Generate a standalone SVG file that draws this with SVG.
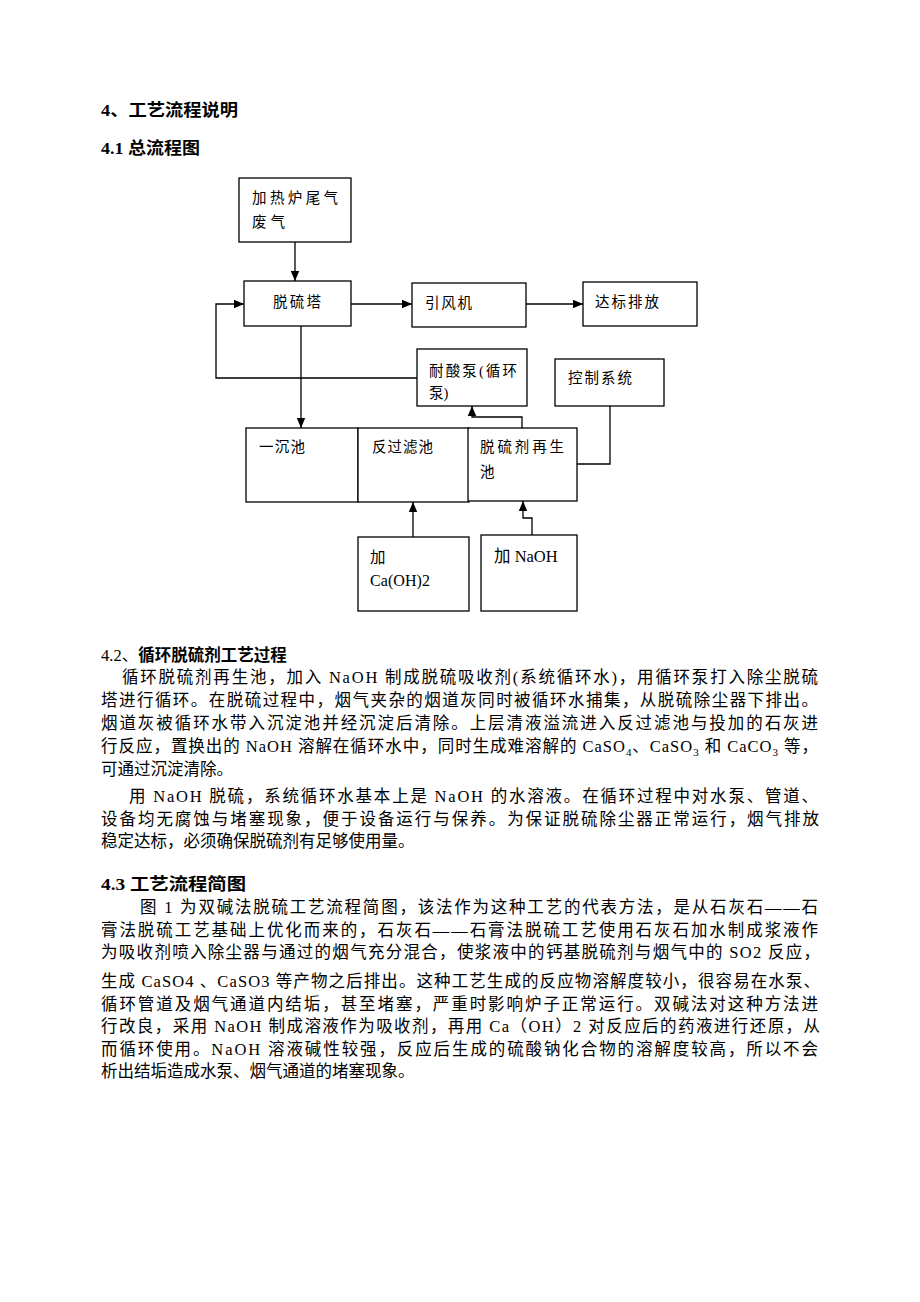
<svg xmlns="http://www.w3.org/2000/svg" width="920" height="1302" viewBox="0 0 920 1302">
<style>
.bx{fill:#fff;stroke:#000;stroke-width:1.3}
.ln{fill:none;stroke:#000;stroke-width:1.3}
.bt{font-family:"Liberation Serif","Noto Sans CJK SC",serif;font-size:14.5px;fill:#000}
.tx{font-family:"Liberation Serif","Noto Sans CJK SC",serif;font-size:16.5px;fill:#000}
.hd{font-family:"Liberation Serif","Noto Sans CJK SC",serif;font-size:16.5px;font-weight:bold;fill:#000}
</style>
<defs>
<marker id="ar" markerUnits="userSpaceOnUse" markerWidth="10" markerHeight="10" refX="10" refY="5" orient="auto">
<path d="M0,0.8 L10,5 L0,9.2 z" fill="#000"/>
</marker>
</defs>
<rect width="920" height="1302" fill="#fff"/>

<text class="hd" x="101" y="116" textLength="137" lengthAdjust="spacingAndGlyphs">4、工艺流程说明</text>
<text class="hd" x="101" y="154" textLength="99" lengthAdjust="spacingAndGlyphs">4.1 总流程图</text>

<g id="connectors">
<line class="ln" x1="295" y1="242" x2="295" y2="281" marker-end="url(#ar)"/>
<line class="ln" x1="351" y1="304" x2="412" y2="304" marker-end="url(#ar)"/>
<line class="ln" x1="526" y1="304" x2="583" y2="304" marker-end="url(#ar)"/>
<polyline class="ln" points="417,378 216,378 216,304 244,304" marker-end="url(#ar)"/>
<line class="ln" x1="301" y1="326" x2="301" y2="428" marker-end="url(#ar)"/>
<polyline class="ln" points="522,428 522,417 472,417 472,406" marker-end="url(#ar)"/>
<polyline class="ln" points="610,406 610,464 577,464"/>
<line class="ln" x1="413" y1="537" x2="413" y2="502" marker-end="url(#ar)"/>
<polyline class="ln" points="532,535 532,518 523,518 523,501" marker-end="url(#ar)"/>
</g>

<g id="n_feiqi"><rect class="bx" x="239" y="178" width="112" height="64"/>
<text class="bt" x="252" y="203" textLength="86">加热炉尾气</text>
<text class="bt" x="252" y="227" textLength="33">废气</text></g>

<g id="n_tuoliuta"><rect class="bx" x="244" y="281" width="107" height="45"/>
<text class="bt" x="273" y="307" textLength="48">脱硫塔</text></g>

<g id="n_yinfengji"><rect class="bx" x="412" y="283" width="114" height="44"/>
<text class="bt" x="425" y="308" textLength="47">引风机</text></g>

<g id="n_dabiao"><rect class="bx" x="583" y="282" width="114" height="44"/>
<text class="bt" x="595" y="307" textLength="64">达标排放</text></g>

<g id="n_naisuanbeng"><rect class="bx" x="417" y="349" width="110" height="57"/>
<text class="bt" x="429" y="376" textLength="88">耐酸泵(循环</text>
<text class="bt" x="429" y="398">泵)</text></g>

<g id="n_kongzhi"><rect class="bx" x="555" y="359" width="109" height="47"/>
<text class="bt" x="568" y="383" textLength="64">控制系统</text></g>

<g id="n_yichenchi"><rect class="bx" x="246" y="428" width="112" height="74"/>
<text class="bt" x="259" y="452" textLength="46">一沉池</text></g>

<g id="n_fanguolv"><rect class="bx" x="358" y="428" width="111" height="74"/>
<text class="bt" x="372" y="452" textLength="61">反过滤池</text></g>

<g id="n_zaisheng"><rect class="bx" x="468" y="428" width="109" height="73"/>
<text class="bt" x="480" y="452" textLength="84">脱硫剂再生</text>
<text class="bt" x="480" y="477">池</text></g>

<g id="n_caoh"><rect class="bx" x="358" y="537" width="111" height="74"/>
<text class="bt" x="370" y="563" style="font-size:15.5px">加</text>
<text class="bt" x="370" y="586" style="font-size:16px" textLength="60">Ca(OH)2</text></g>

<g id="n_naoh"><rect class="bx" x="481" y="535" width="96" height="76"/>
<text class="bt" x="494" y="562" style="font-size:16.5px">加 NaOH</text></g>

<text class="tx" x="101" y="661"><tspan>4.2、</tspan><tspan font-weight="bold">循环脱硫剂工艺过程</tspan></text>
<text class="tx" x="122" y="683" textLength="696" lengthAdjust="spacing">循环脱硫剂再生池，加入 NaOH 制成脱硫吸收剂(系统循环水)，用循环泵打入除尘脱硫</text>
<text class="tx" x="101" y="706" textLength="717" lengthAdjust="spacing">塔进行循环。在脱硫过程中，烟气夹杂的烟道灰同时被循环水捕集，从脱硫除尘器下排出。</text>
<text class="tx" x="101" y="729" textLength="717" lengthAdjust="spacing">烟道灰被循环水带入沉淀池并经沉淀后清除。上层清液溢流进入反过滤池与投加的石灰进</text>
<text class="tx" x="101" y="752" textLength="717" lengthAdjust="spacing">行反应，置换出的 NaOH 溶解在循环水中，同时生成难溶解的 CaSO<tspan dy="4" style="font-size:11px">4</tspan><tspan dy="-4">、CaSO</tspan><tspan dy="4" style="font-size:11px">3</tspan><tspan dy="-4"> 和 CaCO</tspan><tspan dy="4" style="font-size:11px">3</tspan><tspan dy="-4"> 等，</tspan></text>
<text class="tx" x="101" y="775">可通过沉淀清除。</text>

<text class="tx" x="129" y="802" textLength="689" lengthAdjust="spacing">用 NaOH 脱硫，系统循环水基本上是 NaOH 的水溶液。在循环过程中对水泵、管道、</text>
<text class="tx" x="101" y="825" textLength="718" lengthAdjust="spacing">设备均无腐蚀与堵塞现象，便于设备运行与保养。为保证脱硫除尘器正常运行，烟气排放</text>
<text class="tx" x="101" y="847">稳定达标，必须确保脱硫剂有足够使用量。</text>

<text class="hd" x="101" y="890" textLength="145" lengthAdjust="spacingAndGlyphs">4.3 工艺流程简图</text>
<text class="tx" x="140" y="913" textLength="678" lengthAdjust="spacing">图 1 为双碱法脱硫工艺流程简图，该法作为这种工艺的代表方法，是从石灰石——石</text>
<text class="tx" x="101" y="936" textLength="717" lengthAdjust="spacing">膏法脱硫工艺基础上优化而来的，石灰石——石膏法脱硫工艺使用石灰石加水制成浆液作</text>
<text class="tx" x="101" y="958" textLength="719" lengthAdjust="spacing">为吸收剂喷入除尘器与通过的烟气充分混合，使浆液中的钙基脱硫剂与烟气中的 SO2 反应，</text>
<text class="tx" x="101" y="987" textLength="719" lengthAdjust="spacing">生成 CaSO4 、CaSO3 等产物之后排出。这种工艺生成的反应物溶解度较小，很容易在水泵、</text>
<text class="tx" x="101" y="1010" textLength="717" lengthAdjust="spacing">循环管道及烟气通道内结垢，甚至堵塞，严重时影响炉子正常运行。双碱法对这种方法进</text>
<text class="tx" x="101" y="1032" textLength="719" lengthAdjust="spacing">行改良，采用 NaOH 制成溶液作为吸收剂，再用 Ca（OH）2 对反应后的药液进行还原，从</text>
<text class="tx" x="101" y="1055" textLength="717" lengthAdjust="spacing">而循环使用。NaOH 溶液碱性较强，反应后生成的硫酸钠化合物的溶解度较高，所以不会</text>
<text class="tx" x="101" y="1077">析出结垢造成水泵、烟气通道的堵塞现象。</text>
</svg>
